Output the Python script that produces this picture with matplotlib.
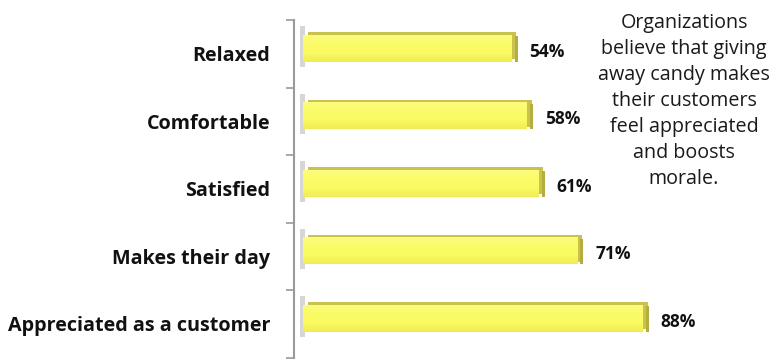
import numpy as np
import matplotlib.pyplot as plt
from matplotlib.ticker import FixedLocator
from matplotlib.colors import LinearSegmentedColormap

# data, top to bottom as in the chart
categories = ['Relaxed', 'Comfortable', 'Satisfied', 'Makes their day',
              'Appreciated as a customer']
values = [54, 58, 61, 71, 88]
value_labels = ['54%', '58%', '61%', '71%', '88%']
note = ('Organizations\nbelieve that giving\naway candy makes\n'
        'their customers\nfeel appreciated\nand boosts\nmorale.')

plt.rcParams['font.family'] = ['Open Sans', 'DejaVu Sans']

fig = plt.figure(figsize=(7.82, 3.63), dpi=100)
# axes placed in pixel terms: axis line at x=294, top at y=20
W, H = 782., 363.
ax = fig.add_axes([294 / W, 1 - 357.5 / H, 395 / W, 337.5 / H])

ypos = np.arange(len(categories))
bar_h = 0.40
lift = 0.08       # bars sit a little above the category centre (3D look)

grad = np.linspace(0, 1, 64).reshape(-1, 1)
face_cmap = LinearSegmentedColormap.from_list(
    'face', ['#fcfc80', '#fbfb68', '#fafa62', '#f0ec55'])

for y, v in zip(ypos, values):
    yc = y - lift
    # grey shadow on the wall
    ax.barh(yc - 0.03, 1.2, left=-0.8, height=bar_h + 0.2, color='#d6d6d6',
            edgecolor='none', zorder=1)
    # depth (top and end) of the 3D bar
    ax.barh(yc - 0.035, v, left=1.3, height=bar_h, color='#c9c24c',
            edgecolor='none', zorder=2)
    ax.barh(yc + 0.01, 0.8, left=v + 0.8, height=bar_h - 0.02,
            color='#b5ad3c', edgecolor='none', zorder=2)
    face = ax.barh(yc, v, height=bar_h, color='#f8f760', edgecolor='none',
                   zorder=3)[0]
    im = ax.imshow(grad, cmap=face_cmap, aspect='auto', zorder=4,
                   extent=(0, v, yc + bar_h / 2, yc - bar_h / 2))
    im.set_clip_path(face)

for y, v, lab in zip(ypos, values, value_labels):
    ax.annotate(lab, (v, y - 0.03), xytext=(13, 0),
                textcoords='offset points', va='center', ha='left',
                fontsize=12.5, fontweight='bold', color='#111111')

ax.set_xlim(-2.33, 100)
ax.set_ylim(len(categories) - 0.5, -0.5)

ax.set_yticks(ypos)
ax.set_yticklabels(categories, fontsize=14.2, fontweight='bold',
                   color='#111111', va='center_baseline')
ax.tick_params(axis='y', which='major', length=0, pad=17)
ax.yaxis.set_minor_locator(FixedLocator(np.arange(-0.5, len(categories), 1)))
ax.tick_params(axis='y', which='minor', length=6, width=1.2,
               color='#9a9a9a', direction='out')
ax.set_xticks([])

for s in ['top', 'right', 'bottom']:
    ax.spines[s].set_visible(False)
ax.spines['left'].set_color('#9a9a9a')
ax.spines['left'].set_linewidth(1.5)

fig.text(684 / W, 1 - 13 / H, note, ha='center', va='top', fontsize=14.2,
         color='#1a1a1a', linespacing=1.4)

fig.savefig('out.png', dpi=100)
